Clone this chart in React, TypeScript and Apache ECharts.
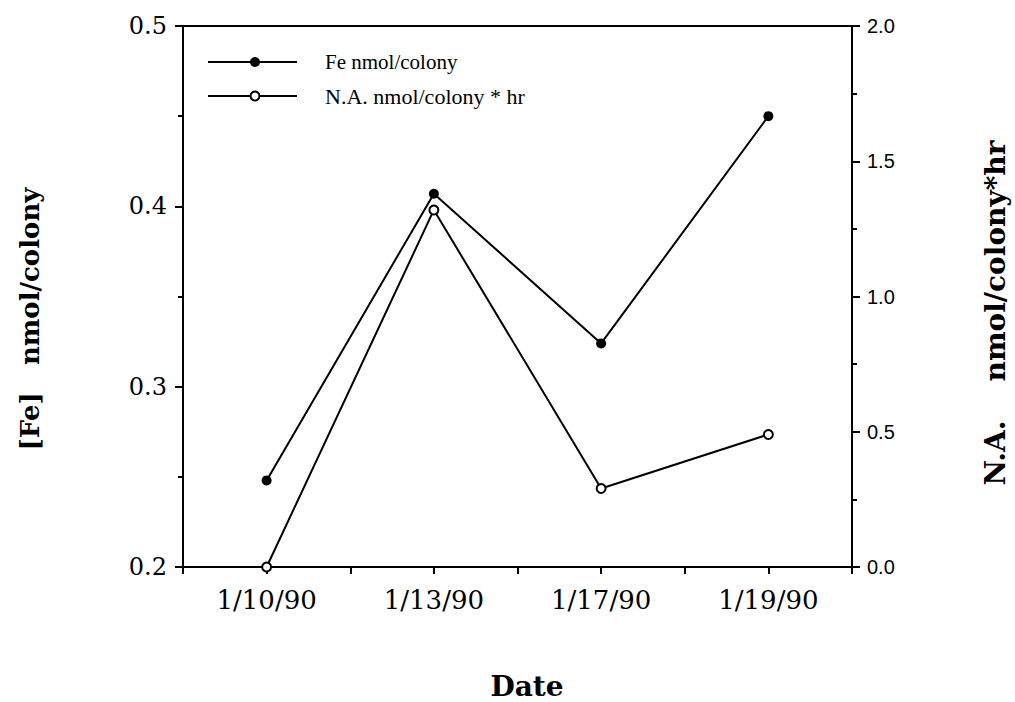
import React, { useEffect, useRef } from "react";
import * as echarts from "echarts";

const categories = ["1/10/90", "1/13/90", "1/17/90", "1/19/90"];
const feValues = [0.248, 0.407, 0.324, 0.45];
const naValues = [0.0, 1.32, 0.29, 0.49];
const leftAxis = { min: 0.2, max: 0.5, interval: 0.1 };
const rightAxis = { min: 0, max: 2, interval: 0.5 };
const legendLabels = ["Fe nmol/colony", "N.A. nmol/colony * hr"];
const leftTitle = "[Fe]\u00A0\u00A0\u00A0nmol/colony";
const rightTitle = "N.A.\u00A0\u00A0\u00A0\u00A0nmol/colony*hr";
const xTitle = "Date";

export default function App() {
  const ref = useRef<HTMLDivElement>(null);
  useEffect(() => {
    document.body.style.margin = "0";
    if (!ref.current) return;
    const chart = echarts.init(ref.current, undefined, { renderer: "svg" });
    const catPos = categories.map((_, i) => 2 * i + 1);
    const feData = feValues.map((v, i) => [catPos[i], v]);
    const naData = naValues.map((v, i) => [catPos[i], v]);
    const black = "#000";
    const mainY = (pos: string, a: { min: number; max: number; interval: number }, label: object) => ({
      type: "value",
      position: pos,
      min: a.min,
      max: a.max,
      interval: a.interval,
      axisLine: { show: true, lineStyle: { color: black, width: 2 } },
      axisTick: { show: true, length: 8, lineStyle: { color: black, width: 2 } },
      minorTick: { show: true, splitNumber: 2, length: 5, lineStyle: { color: black, width: 2 } },
      splitLine: { show: false },
      minorSplitLine: { show: false },
      axisLabel: { color: black, formatter: (v: number) => v.toFixed(1), ...label },
    });
    chart.setOption({
      animation: false,
      backgroundColor: "#fff",
      grid: {
        left: 183,
        right: 163,
        top: 26,
        bottom: 135,
        show: true,
        borderColor: black,
        borderWidth: 2,
        backgroundColor: "transparent",
      },
      xAxis: {
        type: "value",
        min: 0,
        max: 8,
        interval: 1,
        axisLine: { show: true, lineStyle: { color: black, width: 2 } },
        axisTick: { show: true, length: 7, lineStyle: { color: black, width: 2 } },
        splitLine: { show: false },
        axisLabel: {
          margin: 20,
          color: black,
          fontFamily: "DejaVu Serif",
          fontSize: 26,
          formatter: (v: number) => {
            const idx = catPos.indexOf(Math.round(v));
            return idx >= 0 && Math.abs(v - Math.round(v)) < 1e-6 ? categories[idx] : "";
          },
        },
      },
      yAxis: [
        mainY("left", leftAxis, { margin: 16, fontFamily: "DejaVu Serif", fontSize: 24 }),
        mainY("right", rightAxis, { margin: 15, fontFamily: "Liberation Sans", fontSize: 20 }),
      ],
      series: [
        {
          name: legendLabels[0],
          type: "line",
          yAxisIndex: 0,
          data: feData,
          symbol: "circle",
          symbolSize: 10,
          clip: false,
          itemStyle: { color: black },
          lineStyle: { color: black, width: 2 },
          z: 3,
        },
        {
          name: legendLabels[1],
          type: "line",
          yAxisIndex: 1,
          data: naData,
          symbol: "circle",
          symbolSize: 9,
          showAllSymbol: true,
          clip: false,
          itemStyle: { color: "#fff", borderColor: black, borderWidth: 2 },
          lineStyle: { color: black, width: 2 },
          z: 4,
        },
      ],
      graphic: [
        { type: "line", shape: { x1: 208, y1: 62, x2: 297, y2: 62 }, style: { stroke: black, lineWidth: 2 } },
        { type: "circle", shape: { cx: 255, cy: 62, r: 5 }, style: { fill: black } },
        {
          type: "text",
          x: 325,
          y: 62,
          style: { text: legendLabels[0], font: '21px "Liberation Serif"', fill: black, align: "left", verticalAlign: "middle" },
        },
        { type: "line", shape: { x1: 208, y1: 96, x2: 297, y2: 96 }, style: { stroke: black, lineWidth: 2 } },
        { type: "circle", shape: { cx: 255, cy: 96, r: 4.5 }, style: { fill: "#fff", stroke: black, lineWidth: 2 } },
        {
          type: "text",
          x: 325,
          y: 96,
          style: { text: legendLabels[1], font: '22px "Liberation Serif"', fill: black, align: "left", verticalAlign: "middle" },
        },
        {
          type: "text",
          x: 30,
          y: 319,
          rotation: Math.PI / 2,
          style: { text: leftTitle, font: 'bold 26px "DejaVu Serif"', fill: black, align: "center", verticalAlign: "middle" },
        },
        {
          type: "text",
          x: 995,
          y: 313,
          rotation: Math.PI / 2,
          style: { text: rightTitle, font: 'bold 28px "DejaVu Serif"', fill: black, align: "center", verticalAlign: "middle" },
        },
        {
          type: "text",
          x: 527,
          y: 686,
          style: { text: xTitle, font: 'bold 28px "DejaVu Serif"', fill: black, align: "center", verticalAlign: "middle" },
        },
      ],
    });
    return () => chart.dispose();
  }, []);
  return <div ref={ref} style={{ width: 1015, height: 702 }} />;
}
